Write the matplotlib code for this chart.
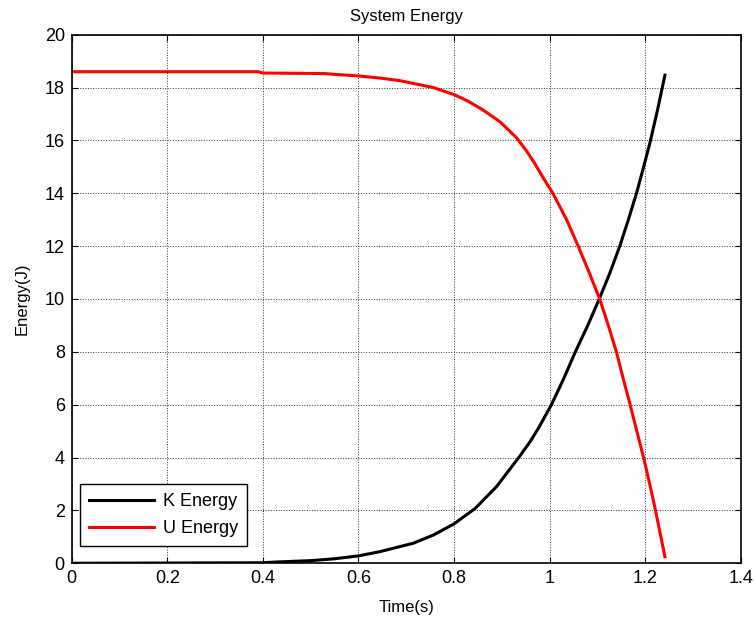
import numpy as np
import matplotlib
matplotlib.use("Agg")
import matplotlib.pyplot as plt

# values
t_k = [0.0, 0.4, 0.43, 0.5, 0.55, 0.6, 0.645, 0.715, 0.757, 0.8, 0.844,
       0.889, 0.938, 0.96, 0.978, 1.004, 1.03, 1.054, 1.08, 1.104, 1.126,
       1.147, 1.165, 1.182, 1.197, 1.21, 1.226, 1.2415]
k_energy = [0.0, 0.02, 0.05, 0.1, 0.17, 0.28, 0.44, 0.76, 1.07, 1.49, 2.07,
            2.9, 4.06, 4.62, 5.15, 6.0, 7.0, 8.0, 9.0, 10.0, 10.97,
            12.0, 13.0, 14.0, 15.0, 15.9, 17.15, 18.47]

t_u = [0.0, 0.39, 0.4, 0.53, 0.55, 0.6, 0.65, 0.687, 0.757, 0.802, 0.83,
       0.861, 0.896, 0.931, 0.952, 0.97, 0.988, 1.007, 1.036, 1.06, 1.083,
       1.105, 1.123, 1.14, 1.154, 1.168, 1.182, 1.196, 1.209, 1.221, 1.2415]
u_energy = [18.6, 18.6, 18.55, 18.53, 18.5, 18.44, 18.35, 18.26, 18.0, 17.72,
            17.48, 17.15, 16.71, 16.1, 15.6, 15.1, 14.55, 14.0, 12.99, 12.0,
            11.0, 10.0, 9.0, 8.0, 7.0, 6.05, 5.05, 4.06, 3.05, 2.07, 0.25]

plt.rcParams['font.family'] = ['Liberation Sans', 'DejaVu Sans']

fig = plt.figure(figsize=(7.55, 6.22), dpi=100)
ax = fig.add_axes([0.095, 0.0944, 0.886, 0.8498])

ax.plot(t_k, k_energy, color="black", linewidth=2.2, label='K Energy')
ax.plot(t_u, u_energy, color="red", linewidth=2.2, label='U Energy')

ax.set_xlim(0, 1.4)
ax.set_ylim(0, 20)
ax.set_xticks(np.arange(0, 1.41, 0.2))
ax.set_xticklabels(['0', '0.2', '0.4', '0.6', '0.8', '1', '1.2', '1.4'])
ax.set_yticks(np.arange(0, 21, 2))

ax.tick_params(direction='in', top=True, right=True, labelsize=13, length=4,
               pad=5)
ax.grid(True, color='#333333', linestyle=':', linewidth=0.7)
for s in ax.spines.values():
    s.set_linewidth(1.2)

ax.set_xlabel('Time(s)', fontsize=12, labelpad=9)
ax.set_ylabel('Energy(J)', fontsize=12, labelpad=11)
ax.set_title('System Energy', fontsize=12, pad=10)

leg = ax.legend(loc='lower left', bbox_to_anchor=(0.0124, 0.0327),
                borderaxespad=0, fontsize=13, fancybox=False, framealpha=1,
                edgecolor='black', handlelength=3.6, handletextpad=0.5,
                labelspacing=0.55, borderpad=0.5)
leg.get_frame().set_linewidth(1.0)

fig.savefig('out.png', dpi=100)
